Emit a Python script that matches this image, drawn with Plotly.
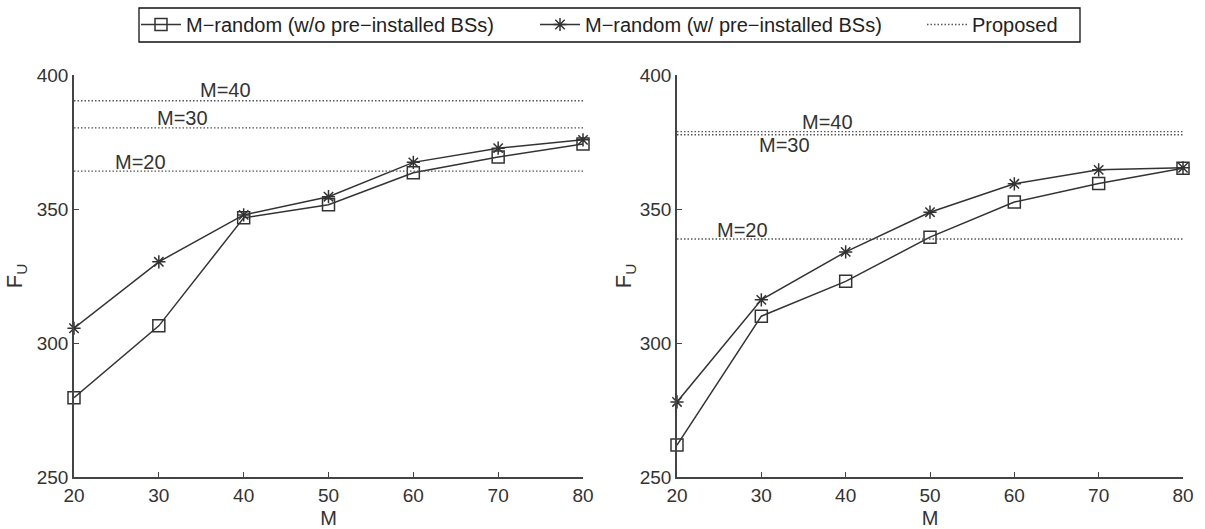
import plotly.graph_objects as go

M_values = [20, 30, 40, 50, 60, 70, 80]

left_wo = [279.6, 306.4, 346.7, 351.6, 363.5, 369.4, 374.3]
left_w = [305.5, 330.3, 347.8, 354.6, 367.4, 372.7, 375.8]
left_proposed = [364.1, 380.3, 390.4]

right_wo = [261.9, 310.0, 323.0, 339.5, 352.6, 359.5, 365.2]
right_w = [278.0, 316.1, 334.0, 348.8, 359.4, 364.6, 365.4]
right_proposed = [338.8, 377.7, 378.9]

proposed_M = [20, 30, 40]
proposed_labels = ["M=20", "M=30", "M=40"]
label_x = [27.8, 32.8, 37.8]
left_label_y = [367.7, 384.0, 394.4]
right_label_y = [342.3, 374.0, 382.6]

x_ticks = [20, 30, 40, 50, 60, 70, 80]
y_ticks = [250, 300, 350, 400]

name_wo = "M\u2212random (w/o pre\u2212installed BSs)"
name_w = "M\u2212random (w/ pre\u2212installed BSs)"
name_prop = "Proposed"

LINE = "#333333"
DOT = "#555555"
FONT = "Liberation Sans, Arial, sans-serif"
W, H = 1205, 529

fig = go.Figure()

panels = [
    ("x", "y", left_wo, left_w, left_proposed, left_label_y, True),
    ("x2", "y2", right_wo, right_w, right_proposed, right_label_y, False),
]

for xa, ya, wo, w, prop, laby, show in panels:
    fig.add_trace(go.Scatter(
        x=M_values, y=wo, xaxis=xa, yaxis=ya, mode="lines+markers",
        name=name_wo, showlegend=show, legend="legend",
        line=dict(color=LINE, width=1.5),
        marker=dict(symbol="square-open", size=12, color=LINE, line=dict(width=1.5, color=LINE)),
        cliponaxis=False,
    ))
    fig.add_trace(go.Scatter(
        x=M_values, y=w, xaxis=xa, yaxis=ya, mode="lines+markers",
        name=name_w, showlegend=show, legend="legend2",
        line=dict(color=LINE, width=1.5),
        marker=dict(symbol="asterisk-open", size=11, color=LINE, line=dict(width=1.5, color=LINE)),
        cliponaxis=False,
    ))
    for i, (m, v) in enumerate(zip(proposed_M, prop)):
        fig.add_trace(go.Scatter(
            x=[x_ticks[0], x_ticks[-1]], y=[v, v], xaxis=xa, yaxis=ya, mode="lines",
            name=name_prop, showlegend=(show and i == 0), legend="legend3",
            line=dict(color=DOT, width=1.3, dash="1.5px,2px"),
        ))
    for lab, lx, ly in zip(proposed_labels, label_x, laby):
        fig.add_annotation(
            x=lx, y=ly, xref=xa, yref=ya, text=lab, showarrow=False,
            font=dict(size=20, color=LINE, family=FONT),
        )

axis_common = dict(
    showgrid=False, zeroline=False, showline=True, linecolor="#444444", linewidth=1.5,
    ticks="inside", ticklen=5, tickcolor="#444444", tickwidth=1.2,
    tickfont=dict(size=19, color=LINE, family=FONT), mirror=False, automargin=False,
)

legend_common = dict(
    orientation="h", xanchor="left", y=1-5/H, yanchor="top",
    borderwidth=0, bgcolor="rgba(0,0,0,0)",
    font=dict(size=20, color="#222222", family=FONT), itemwidth=40,
)

# legend frame
fig.add_shape(type="rect", xref="paper", yref="paper",
              x0=139/W, x1=1080/W, y0=1-42/H, y1=1-8/H,
              line=dict(color="#111111", width=1.3), fillcolor="white", layer="below")

fig.update_layout(
    width=W, height=H,
    margin=dict(l=0, r=0, t=0, b=0, autoexpand=False),
    paper_bgcolor="white", plot_bgcolor="white",
    font=dict(family=FONT, color=LINE),
    xaxis=dict(domain=[74/W, 583/W], range=[20, 80], tickvals=x_ticks, anchor="y",
               title=dict(text="M", font=dict(size=20, color=LINE), standoff=6), **axis_common),
    yaxis=dict(domain=[1-477/H, 1-75/H], range=[250, 400], tickvals=y_ticks, anchor="x",
               title=dict(text="F<sub>U</sub>", font=dict(size=22, color=LINE), standoff=8), **axis_common),
    xaxis2=dict(domain=[677/W, 1183/W], range=[20, 80], tickvals=x_ticks, anchor="y2",
                title=dict(text="M", font=dict(size=20, color=LINE), standoff=6), **axis_common),
    yaxis2=dict(domain=[1-477/H, 1-75/H], range=[250, 400], tickvals=y_ticks, anchor="x2",
                title=dict(text="F<sub>U</sub>", font=dict(size=22, color=LINE), standoff=2), **axis_common),
    legend=dict(x=136/W, **legend_common),
    legend2=dict(x=535/W, **legend_common),
    legend3=dict(x=922/W, **legend_common),
    showlegend=True,
)

fig.write_html("out.html", config={"displayModeBar": False},
               post_script="document.body.style.margin='0';document.body.style.padding='0';")
